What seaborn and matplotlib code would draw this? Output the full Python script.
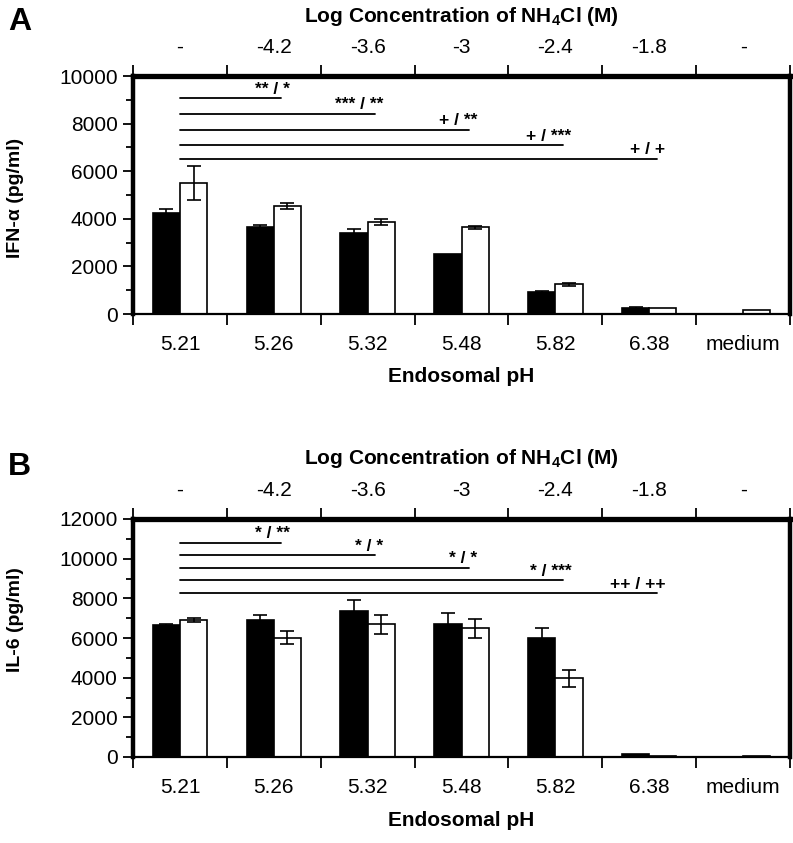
import numpy as np
import pandas as pd
import matplotlib
matplotlib.use('Agg')
import matplotlib.pyplot as plt
from matplotlib.ticker import MultipleLocator, FixedLocator
import seaborn as sns

# Données
ph_labels = ['5.21', '5.26', '5.32', '5.48', '5.82', '6.38', 'medium']
conc_labels = ['-', '-4.2', '-3.6', '-3', '-2.4', '-1.8', '-']

ifn_black = [4260, 3650, 3410, 2520, 920, 240, 0]
ifn_black_err = [170, 110, 170, 0, 50, 50, 0]
ifn_white = [5510, 4545, 3860, 3640, 1245, 240, 170]
ifn_white_err = [700, 120, 120, 50, 50, 0, 0]

il6_black = [6660, 6910, 7380, 6710, 6020, 135, 0]
il6_black_err = [50, 270, 550, 540, 470, 0, 0]
il6_white = [6890, 6020, 6690, 6490, 3960, 70, 70]
il6_white_err = [100, 340, 470, 490, 420, 0, 0]

ifn_sig_labels = ['** / *', '*** / **', '+ / **', '+ / ***', '+ / +']
ifn_sig_y = [9060, 8410, 7750, 7100, 6520]
il6_sig_labels = ['* / **', '* / *', '* / *', '* / ***', '++ / ++']
il6_sig_y = [10800, 10160, 9540, 8900, 8260]

sns.set_style('ticks')
plt.rcParams['font.family'] = ['Liberation Sans', 'DejaVu Sans']
plt.rcParams['mathtext.fontset'] = 'custom'
plt.rcParams['mathtext.rm'] = 'Liberation Sans'
plt.rcParams['mathtext.bf'] = 'Liberation Sans:bold'
for k in ['axes.edgecolor', 'text.color', 'axes.labelcolor', 'xtick.color', 'ytick.color']:
    plt.rcParams[k] = 'black'

fig = plt.figure(figsize=(7.93, 8.43), dpi=100)


def panel(rect, black, black_err, white, white_err, sig_labels, sig_y, ymax):
    ax = fig.add_axes(rect)
    df = pd.DataFrame({
        'ph': ph_labels * 2,
        'grp': ['a'] * len(black) + ['b'] * len(white),
        'val': black + white,
    })
    sns.barplot(data=df, x='ph', y='val', hue='grp', order=ph_labels,
                palette={'a': 'black', 'b': 'white'}, edgecolor='black',
                linewidth=1.2, width=0.58, errorbar=None, legend=False, ax=ax)

    for cont, errs in zip(ax.containers, [black_err, white_err]):
        for bar, e in zip(cont, errs):
            if e > 0:
                x = bar.get_x() + bar.get_width() / 2
                ax.errorbar(x, bar.get_height(), yerr=e, color='black',
                            capsize=5, lw=1.2, capthick=1.2)

    # barres de significativité depuis la première catégorie
    for i, (lab, y) in enumerate(zip(sig_labels, sig_y)):
        end = i + 1 + 0.08
        ax.plot([0, end], [y, y], color='black', lw=1.3)
        ax.annotate(lab, xy=(end + 0.09, y), xytext=(0, 1.0),
                    textcoords='offset points', ha='right', va='bottom',
                    fontsize=12.5, fontweight='bold')

    ax.set_xlim(-0.5, 6.5)
    ax.set_ylim(0, ymax)
    ax.yaxis.set_major_locator(MultipleLocator(2000))
    ax.yaxis.set_minor_locator(MultipleLocator(1000))
    ax.set_xticks(range(7))
    ax.set_xticklabels(ph_labels)
    ax.xaxis.set_minor_locator(FixedLocator(np.arange(-0.5, 7, 1)))
    ax.tick_params(axis='x', which='major', length=0, pad=15, labelsize=15)
    ax.tick_params(axis='x', which='minor', length=8, width=1.3, direction='out')
    ax.tick_params(axis='y', which='major', length=7, width=1.3, labelsize=15, pad=4)
    ax.tick_params(axis='y', which='minor', length=5, width=1.3)
    ax.set_xlabel('')
    ax.set_ylabel('')

    for side in ['left', 'right', 'top']:
        ax.spines[side].set_visible(True)
        ax.spines[side].set_linewidth(3.2)
    ax.spines['bottom'].set_linewidth(1.6)
    ax.spines['top'].set_linewidth(3.8)

    ax2 = ax.twiny()
    ax2.set_xlim(-0.5, 6.5)
    ax2.set_xticks(range(7))
    ax2.set_xticklabels(conc_labels)
    ax2.xaxis.set_minor_locator(FixedLocator(np.arange(-0.5, 7, 1)))
    ax2.tick_params(axis='x', which='major', length=0, pad=14, labelsize=15)
    ax2.tick_params(axis='x', which='minor', length=8, width=1.3, direction='out')
    for s in ax2.spines.values():
        s.set_visible(False)
    return ax


left = 133 / 793
width = (790 - 133) / 793
height = (314 - 76) / 843

panel([left, 1 - 314 / 843, width, height], ifn_black, ifn_black_err,
      ifn_white, ifn_white_err, ifn_sig_labels, ifn_sig_y, 10000)
panel([left, 1 - 757 / 843, width, height], il6_black, il6_black_err,
      il6_white, il6_white_err, il6_sig_labels, il6_sig_y, 12000)

xc = left + width / 2
title = r'Log Concentration of NH$_{\mathbf{4}}$Cl (M)'
fig.text(xc, 1 - 17 / 843, title, ha='center', va='center', fontsize=15, fontweight='bold')
fig.text(xc, 1 - 458 / 843, title, ha='center', va='center', fontsize=15, fontweight='bold')
fig.text(xc, 1 - 377 / 843, 'Endosomal pH', ha='center', va='center', fontsize=15, fontweight='bold')
fig.text(xc, 1 - 820 / 843, 'Endosomal pH', ha='center', va='center', fontsize=15, fontweight='bold')
fig.text(0.02, 1 - 198 / 843, 'IFN-α (pg/ml)', rotation=90, ha='center', va='center',
         fontsize=14, fontweight='bold')
fig.text(0.02, 1 - 620 / 843, 'IL-6 (pg/ml)', rotation=90, ha='center', va='center',
         fontsize=14, fontweight='bold')
fig.text(0.025, 1 - 22 / 843, 'A', ha='center', va='center', fontsize=23, fontweight='bold')
fig.text(0.025, 1 - 467 / 843, 'B', ha='center', va='center', fontsize=23, fontweight='bold')

fig.savefig('out.png', dpi=100)
